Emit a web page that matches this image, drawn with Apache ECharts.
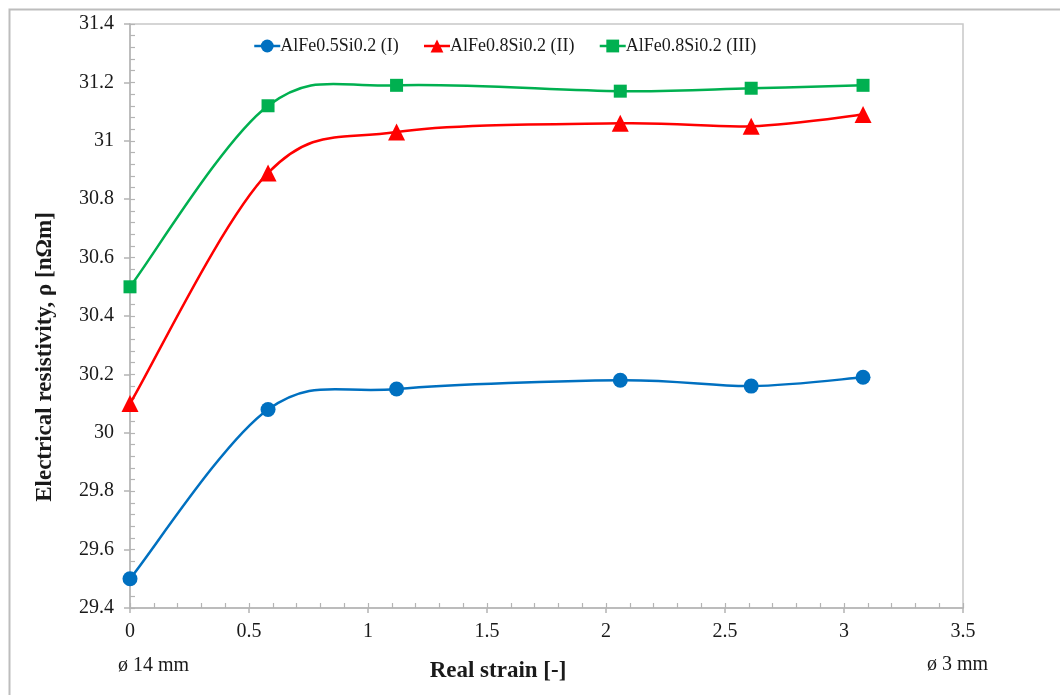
<!DOCTYPE html>
<html>
<head>
<meta charset="utf-8">
<script src="https://cdn.jsdelivr.net/npm/echarts@6/dist/echarts.min.js"></script>
<style>
html,body{margin:0;padding:0;background:#fff;}
#chart{width:1060px;height:695px;}
</style>
</head>
<body>
<div id="chart"></div>
<script>
// Data
const strain = [0, 0.58, 1.12, 2.06, 2.61, 3.08];
const seriesNames = ['AlFe0.5Si0.2 (I)', 'AlFe0.8Si0.2 (II)', 'AlFe0.8Si0.2 (III)'];
const valuesI = [29.5, 30.08, 30.15, 30.18, 30.16, 30.19];
const valuesII = [30.1, 30.89, 31.03, 31.06, 31.05, 31.09];
const valuesIII = [30.5, 31.12, 31.19, 31.17, 31.18, 31.19];
const xMin = 0, xMax = 3.5, xStep = 0.5, xMinorStep = 0.1;
const yMin = 29.4, yMax = 31.4, yStep = 0.2, yMinorStep = 0.04;
const yTitle = 'Electrical resistivity, ρ [nΩm]';
const xTitle = 'Real strain [-]';
const leftNote = 'ø 14 mm';
const rightNote = 'ø 3 mm';

const colors = ['#0070C0', '#FF0000', '#00B050'];
const symbols = ['circle', 'triangle', 'rect'];
const symbolSizes = [15, 17, 13];
const font = "'Liberation Serif', 'Times New Roman', serif";
const axisGray = '#B4B4B4';
const allValues = [valuesI, valuesII, valuesIII];

function pairs(vals){ return strain.map((x,i)=>[x, vals[i]]); }

// Excel-like smoothed line: Catmull-Rom segments drawn as Bezier curves in pixel space
function smoothRenderer(vals, color){
  return function(params, api){
    const i = params.dataIndex;
    if (i >= strain.length - 1) return null;
    const p = k => api.coord([strain[Math.max(0, Math.min(strain.length-1, k))], vals[Math.max(0, Math.min(strain.length-1, k))]]);
    const p0 = p(i-1), p1 = p(i), p2 = p(i+1), p3 = p(i+2);
    return {
      type: 'bezierCurve',
      shape: {
        x1: p1[0], y1: p1[1], x2: p2[0], y2: p2[1],
        cpx1: p1[0] + (p2[0]-p0[0])/6, cpy1: p1[1] + (p2[1]-p0[1])/6,
        cpx2: p2[0] - (p3[0]-p1[0])/6, cpy2: p2[1] - (p3[1]-p1[1])/6
      },
      style: {stroke: color, lineWidth: 2.5, fill: 'none'},
      silent: true
    };
  };
}

const chart = echarts.init(document.getElementById('chart'));
const labelStyle = {fontFamily: font, fontSize: 20, color: '#1a1a1a'};

const series = [];
allValues.forEach((vals, k) => {
  series.push({
    name: 'smooth' + k, type: 'custom', data: pairs(vals), z: 2,
    renderItem: smoothRenderer(vals, colors[k]), clip: false
  });
});
allValues.forEach((vals, k) => {
  series.push({
    name: seriesNames[k], type: 'line', data: pairs(vals), z: 5,
    symbol: symbols[k], symbolSize: symbolSizes[k],
    lineStyle: {color: colors[k], width: 0, opacity: 0},
    itemStyle: {color: colors[k]}
  });
});

chart.setOption({
  animation: false,
  backgroundColor: '#fff',
  grid: {left: 130, right: 97, top: 24, bottom: 87, show: true, borderColor: '#C8C8C8', borderWidth: 1.5, backgroundColor: 'transparent'},
  legend: {
    data: seriesNames.map((n, k) => ({name: n, lineStyle: {color: colors[k], width: 2.5, opacity: 1}})),
    left: 248, top: 32,
    itemWidth: 26, itemHeight: 16, itemGap: 24,
    lineStyle: {width: 2.5, opacity: 1},
    textStyle: {fontFamily: font, fontSize: 18, color: '#1a1a1a', padding: [0,0,0,-5]}
  },
  xAxis: [
    {type: 'value', min: xMin, max: xMax, interval: xStep,
     axisLine: {show: true, onZero: false, lineStyle: {color: axisGray, width: 1.5}},
     axisTick: {show: true, inside: false, length: 5, lineStyle: {color: axisGray, width: 1.5}},
     axisLabel: Object.assign({margin: 14}, labelStyle),
     splitLine: {show: false}},
    {type: 'value', min: xMin, max: xMax, interval: xMinorStep, position: 'bottom',
     axisLine: {show: false, onZero: false},
     axisTick: {show: true, inside: true, length: 5, lineStyle: {color: axisGray, width: 1.2}},
     axisLabel: {show: false}, splitLine: {show: false}}
  ],
  yAxis: [
    {type: 'value', min: yMin, max: yMax, interval: yStep,
     axisLine: {show: true, onZero: false, lineStyle: {color: axisGray, width: 1.5}},
     axisTick: {show: true, inside: false, length: 6, lineStyle: {color: axisGray, width: 1.5}},
     axisLabel: Object.assign({margin: 16, formatter: v => String(Math.round(v*10)/10)}, labelStyle),
     splitLine: {show: false}},
    {type: 'value', min: yMin, max: yMax, interval: yMinorStep, position: 'left',
     axisLine: {show: false, onZero: false},
     axisTick: {show: true, inside: true, length: 5, lineStyle: {color: axisGray, width: 1.2}},
     axisLabel: {show: false}, splitLine: {show: false}}
  ],
  series: series,
  graphic: [
    {type: 'rect', left: 7, top: 7, shape: {width: 1200, height: 1000},
     style: {fill: 'none', stroke: '#BDBDBD', lineWidth: 2}, silent: true, z: -10},
    {type: 'text', x: 45, y: 357, rotation: Math.PI/2,
     style: {text: yTitle, fontFamily: font, fontSize: 23, fontWeight: 'bold', fill: '#1a1a1a', align: 'center', verticalAlign: 'middle'}},
    {type: 'text', x: 498, y: 671,
     style: {text: xTitle, fontFamily: font, fontSize: 23, fontWeight: 'bold', fill: '#1a1a1a', align: 'center', verticalAlign: 'middle'}},
    {type: 'text', x: 118, y: 666,
     style: {text: leftNote, fontFamily: font, fontSize: 20, fill: '#1a1a1a', align: 'left', verticalAlign: 'middle'}},
    {type: 'text', x: 927, y: 665,
     style: {text: rightNote, fontFamily: font, fontSize: 20, fill: '#1a1a1a', align: 'left', verticalAlign: 'middle'}}
  ]
});
</script>
</body>
</html>
